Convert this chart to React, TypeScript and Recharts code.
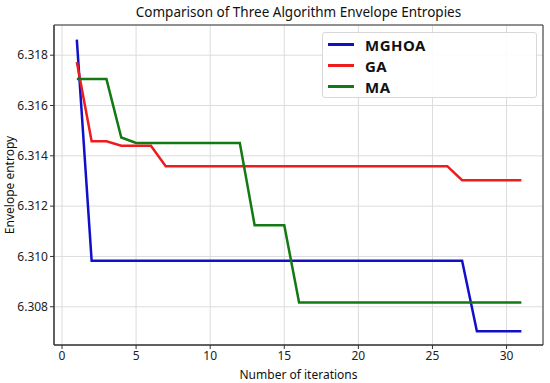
import React from 'react';
import {
  LineChart,
  Line,
  XAxis,
  YAxis,
  CartesianGrid,
  ReferenceArea,
  Label
} from 'recharts';

const iterations = [
  1, 2, 3, 4, 5, 6, 7, 8, 9, 10, 11, 12, 13, 14, 15, 16,
  17, 18, 19, 20, 21, 22, 23, 24, 25, 26, 27, 28, 29, 30, 31
];

const mghoa = [
  6.31862, 6.30983, 6.30983, 6.30983, 6.30983, 6.30983, 6.30983, 6.30983,
  6.30983, 6.30983, 6.30983, 6.30983, 6.30983, 6.30983, 6.30983, 6.30983,
  6.30983, 6.30983, 6.30983, 6.30983, 6.30983, 6.30983, 6.30983, 6.30983,
  6.30983, 6.30983, 6.30983, 6.30703, 6.30703, 6.30703, 6.30703
];

const ga = [
  6.31773, 6.31458, 6.31458, 6.3144, 6.3144, 6.3144, 6.31359, 6.31359,
  6.31359, 6.31359, 6.31359, 6.31359, 6.31359, 6.31359, 6.31359, 6.31359,
  6.31359, 6.31359, 6.31359, 6.31359, 6.31359, 6.31359, 6.31359, 6.31359,
  6.31359, 6.31359, 6.31303, 6.31303, 6.31303, 6.31303, 6.31303
];

const ma = [
  6.31705, 6.31705, 6.31705, 6.31473, 6.31451, 6.31451, 6.31451, 6.31451,
  6.31451, 6.31451, 6.31451, 6.31451, 6.31124, 6.31124, 6.31124, 6.30817,
  6.30817, 6.30817, 6.30817, 6.30817, 6.30817, 6.30817, 6.30817, 6.30817,
  6.30817, 6.30817, 6.30817, 6.30817, 6.30817, 6.30817, 6.30817
];

const seriesNames = ['MGHOA', 'GA', 'MA'];
const seriesColors = ['#1010c8', '#ee1c1c', '#137a13'];

const xTicks = [0, 5, 10, 15, 20, 25, 30];
const yTicks = [6.308, 6.31, 6.312, 6.314, 6.316, 6.318];

const X_DOMAIN: [number, number] = [-0.54, 32.46];
const Y_DOMAIN: [number, number] = [6.30648, 6.3192];

const FONT = '"Noto Sans", "Open Sans", sans-serif';

const chartData = iterations.map((it, i) => ({
  it,
  MGHOA: mghoa[i],
  GA: ga[i],
  MA: ma[i]
}));

function LegendBox() {
  return (
    <div
      style={{
        position: 'absolute',
        left: 322,
        top: 32,
        width: 215,
        height: 66,
        border: '1px solid #d8d8d8',
        borderRadius: 3,
        background: 'rgba(255,255,255,0.9)',
        padding: '1px 0 0 5px',
        boxSizing: 'border-box'
      }}
    >
      {seriesNames.map((name, i) => (
        <div
          key={name}
          style={{ display: 'flex', alignItems: 'center', height: 21 }}
        >
          <span
            style={{
              display: 'inline-block',
              width: 26,
              height: 3,
              background: seriesColors[i],
              marginRight: 11
            }}
          />
          <span
            style={{
              fontFamily: FONT,
              fontWeight: 700,
              fontSize: 15,
              letterSpacing: 0.5,
              lineHeight: '20px',
              color: '#111'
            }}
          >
            {name}
          </span>
        </div>
      ))}
    </div>
  );
}

export default function App() {
  return (
    <div
      style={{
        position: 'absolute',
        left: 0,
        top: 0,
        width: 550,
        height: 383,
        background: '#fff',
        fontFamily: FONT
      }}
    >
      <div
        style={{
          position: 'absolute',
          left: 54,
          width: 489,
          top: 3,
          textAlign: 'center',
          fontSize: 13.5,
          color: '#111'
        }}
      >
        Comparison of Three Algorithm Envelope Entropies
      </div>
      <LineChart
        width={550}
        height={383}
        data={chartData}
        margin={{ top: 25, right: 7, bottom: 0, left: 0 }}
      >
        <CartesianGrid stroke="#dcdcdc" strokeWidth={1} />
        <XAxis
          dataKey="it"
          type="number"
          domain={X_DOMAIN}
          ticks={xTicks}
          allowDataOverflow
          height={38}
          tickSize={4}
          stroke="#333"
          tick={{ fill: '#222', fontSize: 12, fontFamily: FONT }}
        >
          <Label
            value="Number of iterations"
            position="insideBottom"
            offset={4}
            style={{ fill: '#111', fontSize: 12, fontFamily: FONT }}
          />
        </XAxis>
        <YAxis
          type="number"
          domain={Y_DOMAIN}
          ticks={yTicks}
          allowDataOverflow
          width={54}
          tickSize={4}
          stroke="#333"
          tickFormatter={(v: number) => v.toFixed(3)}
          tick={{ fill: '#222', fontSize: 12, fontFamily: FONT }}
        >
          <Label
            value="Envelope entropy"
            angle={-90}
            position="insideLeft"
            offset={10}
            style={{ textAnchor: 'middle', fill: '#111', fontSize: 12, fontFamily: FONT }}
          />
        </YAxis>
        <ReferenceArea
          x1={X_DOMAIN[0]}
          x2={X_DOMAIN[1]}
          y1={Y_DOMAIN[0]}
          y2={Y_DOMAIN[1]}
          fill="none"
          stroke="#333"
          strokeWidth={1}
          ifOverflow="visible"
        />
        {seriesNames.map((name, i) => (
          <Line
            key={name}
            dataKey={name}
            stroke={seriesColors[i]}
            strokeWidth={2.5}
            dot={false}
            type="linear"
            isAnimationActive={false}
          />
        ))}
      </LineChart>
      <LegendBox />
    </div>
  );
}
